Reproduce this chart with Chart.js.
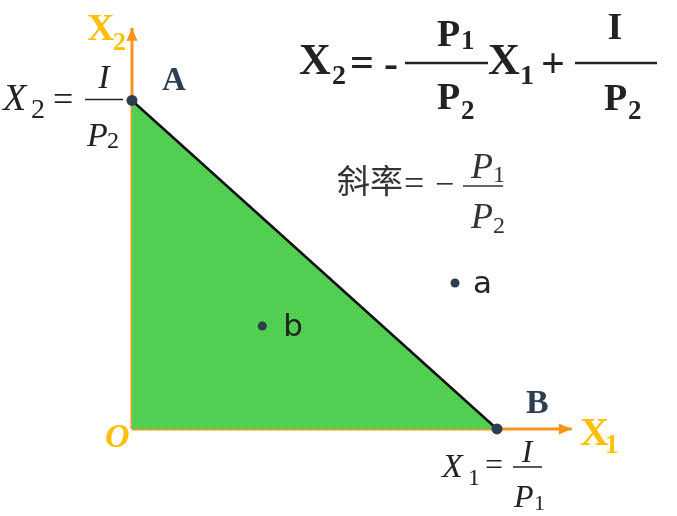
<!DOCTYPE html>
<html>
  <head>
    <meta charset="utf-8">
    <title>Budget line</title>
    <style>
      body { margin: 0; background: #fff; }
      #wrap { width: 677px; height: 516px; }
    </style>
  </head>
  <body>
    <div id="wrap"><canvas id="canvas"></canvas></div>
    <script src="https://cdn.jsdelivr.net/npm/chart.js@4"></script>
    <script>
      // intercepts of the budget line, in units of goods
      const interceptX1 = 10; // I/P1
      const interceptX2 = 9;  // I/P2
      const budgetLine = [{ x: 0, y: interceptX2 }, { x: interceptX1, y: 0 }];
      const axisX1 = [{ x: 0, y: 0 }, { x: 12.05, y: 0 }];
      const axisX2 = [{ x: 0, y: 0 }, { x: 0, y: 10.99 }];
      const bundleA = [{ x: 8.85, y: 4.0 }];
      const bundleB = [{ x: 3.57, y: 2.82 }];
      const xRange = [-3.616, 14.932];
      const yRange = [-2.384, 11.753];

      const orange = "#f7941d";
      const gold = "#ffc000";
      const slate = "#2c3e50";
      const ink = "#222";

      // dotted green fill like the slide
      const pc = document.createElement("canvas");
      pc.width = 4; pc.height = 4;
      const pctx = pc.getContext("2d");
      pctx.fillStyle = "#4ccd4c";
      pctx.fillRect(0, 0, 4, 4);
      pctx.fillStyle = "#78d878";
      pctx.fillRect(0, 0, 1, 1);
      pctx.fillRect(2, 2, 1, 1);
      const greenFill = pctx.createPattern(pc, "repeat");

      function put(ctx, text, x, y, font, color, align) {
        ctx.font = font;
        ctx.fillStyle = color;
        ctx.textAlign = align || "left";
        ctx.textBaseline = "alphabetic";
        ctx.fillText(text, x, y);
        return ctx.measureText(text).width;
      }
      function rule(ctx, x1, x2, y, w, color) {
        ctx.strokeStyle = color;
        ctx.lineWidth = w;
        ctx.beginPath();
        ctx.moveTo(x1, y);
        ctx.lineTo(x2, y);
        ctx.stroke();
      }
      function arrow(ctx, x, y, dir) {
        ctx.fillStyle = orange;
        ctx.beginPath();
        if (dir === "up") {
          ctx.moveTo(x, y);
          ctx.lineTo(x - 5.5, y + 13);
          ctx.lineTo(x + 5.5, y + 13);
        } else {
          ctx.moveTo(x, y);
          ctx.lineTo(x - 13, y - 5.5);
          ctx.lineTo(x - 13, y + 5.5);
        }
        ctx.closePath();
        ctx.fill();
      }

      const labels = {
        id: "labels",
        afterDatasetsDraw(chart) {
          const ctx = chart.ctx;
          const sx = chart.scales.x, sy = chart.scales.y;
          ctx.save();
          // arrowheads at axis ends
          arrow(ctx, sx.getPixelForValue(0), sy.getPixelForValue(axisX2[1].y), "up");
          arrow(ctx, sx.getPixelForValue(axisX1[1].x), sy.getPixelForValue(0), "right");
          ctx.restore();
        },
        afterDraw(chart) {
          const ctx = chart.ctx;
          const sx = chart.scales.x, sy = chart.scales.y;
          const ox = sx.getPixelForValue(0), oy = sy.getPixelForValue(0);
          const ay = sy.getPixelForValue(interceptX2);
          const bx = sx.getPixelForValue(interceptX1);
          ctx.save();
          const serif = "'Liberation Serif', 'Times New Roman', serif";

          // axis names
          put(ctx, "X", ox - 45, 40, "bold 38px " + serif, gold);
          put(ctx, "2", ox - 19, 50, "bold 26px " + serif, gold);
          put(ctx, "X", bx + 83, oy + 16, "bold 40px " + serif, gold);
          put(ctx, "1", bx + 108, oy + 24, "bold 27px " + serif, gold);
          put(ctx, "O", ox - 27, oy + 18, "italic bold 34px " + serif, gold);

          // corner points
          put(ctx, "A", ox + 30, ay - 10, "bold 33px " + serif, slate);
          put(ctx, "B", bx + 29, oy - 16, "bold 34px " + serif, slate);

          // bundles
          const sans = "'DejaVu Sans', 'Open Sans', sans-serif";
          put(ctx, "a", sx.getPixelForValue(bundleA[0].x) + 18, sy.getPixelForValue(bundleA[0].y) + 10, "31px " + sans, ink);
          put(ctx, "b", sx.getPixelForValue(bundleB[0].x) + 21, sy.getPixelForValue(bundleB[0].y) + 10, "31px " + sans, ink);

          // X2 = I/P2 at A
          put(ctx, "X", ox - 129, ay + 10, "italic 38px " + serif, ink);
          put(ctx, "2", ox - 101, ay + 18, "28px " + serif, ink);
          put(ctx, "=", ox - 79, ay + 11, "36px " + serif, ink);
          rule(ctx, ox - 47, ox - 9, ay - 1, 1.5, ink);
          put(ctx, "I", ox - 28, ay - 12, "italic 34px " + serif, ink, "center");
          put(ctx, "P", ox - 45, ay + 46, "italic 34px " + serif, ink);
          put(ctx, "2", ox - 25, ay + 48, "24px " + serif, ink);

          // X1 = I/P1 at B
          put(ctx, "X", bx - 55, oy + 48, "italic 34px " + serif, ink);
          put(ctx, "1", bx - 29, oy + 56, "24px " + serif, ink);
          put(ctx, "=", bx - 12, oy + 46, "32px " + serif, ink);
          rule(ctx, bx + 16, bx + 45, oy + 38, 1.5, ink);
          put(ctx, "I", bx + 30, oy + 33, "italic 32px " + serif, ink, "center");
          put(ctx, "P", bx + 17, oy + 78, "italic 32px " + serif, ink);
          put(ctx, "1", bx + 37, oy + 81, "22px " + serif, ink);

          // budget equation
          put(ctx, "X", 299, 74, "bold 44px " + serif, ink);
          put(ctx, "2", 332, 84, "bold 28px " + serif, ink);
          put(ctx, "=", 350, 76, "bold 42px " + serif, ink);
          put(ctx, "-", 384, 77, "bold 42px " + serif, ink);
          rule(ctx, 405, 488, 63, 2.5, ink);
          put(ctx, "P", 437, 46, "bold 38px " + serif, ink);
          put(ctx, "1", 461, 49, "bold 27px " + serif, ink);
          put(ctx, "P", 437, 109, "bold 38px " + serif, ink);
          put(ctx, "2", 461, 119, "bold 27px " + serif, ink);
          put(ctx, "X", 488, 74, "bold 44px " + serif, ink);
          put(ctx, "1", 520, 84, "bold 28px " + serif, ink);
          put(ctx, "+", 541, 77, "bold 42px " + serif, ink);
          rule(ctx, 575, 657, 63, 2.5, ink);
          put(ctx, "I", 615, 39, "bold 38px " + serif, ink, "center");
          put(ctx, "P", 604, 110, "bold 38px " + serif, ink);
          put(ctx, "2", 628, 119, "bold 27px " + serif, ink);

          // slope
          put(ctx, "斜率", 337, 193, "33px 'Noto Sans CJK SC', sans-serif", "#333");
          put(ctx, "=", 404, 195, "36px " + serif, "#333");
          put(ctx, "−", 435, 195, "34px " + serif, "#333");
          rule(ctx, 463, 503, 186, 1.5, "#333");
          put(ctx, "P", 471, 178, "italic 36px " + serif, "#333");
          put(ctx, "1", 493, 182, "24px " + serif, "#333");
          put(ctx, "P", 471, 228, "italic 36px " + serif, "#333");
          put(ctx, "2", 493, 233, "24px " + serif, "#333");
          ctx.restore();
        }
      };

      new Chart(document.getElementById("canvas").getContext("2d"), {
        type: "scatter",
        data: {
          datasets: [
            {
              label: "ends",
              data: budgetLine,
              pointRadius: 5.5,
              pointBackgroundColor: slate,
              pointBorderWidth: 0,
              showLine: false,
              order: 0
            },
            {
              label: "bundles",
              data: bundleA.concat(bundleB),
              pointRadius: 4.5,
              pointBackgroundColor: slate,
              pointBorderWidth: 0,
              showLine: false,
              order: 1
            },
            {
              label: "budget",
              data: budgetLine,
              showLine: true,
              borderColor: "#111",
              borderWidth: 2.5,
              backgroundColor: greenFill,
              fill: "origin",
              pointRadius: 0,
              order: 2
            },
            {
              label: "X1",
              data: axisX1,
              showLine: true,
              borderColor: orange,
              borderWidth: 3,
              pointRadius: 0,
              order: 3
            },
            {
              label: "X2",
              data: axisX2,
              showLine: true,
              borderColor: orange,
              borderWidth: 3,
              pointRadius: 0,
              order: 3
            }
          ]
        },
        options: {
          responsive: true,
          maintainAspectRatio: false,
          animation: false,
          layout: { padding: 0, autoPadding: false },
          plugins: {
            legend: { display: false },
            tooltip: { enabled: false }
          },
          scales: {
            x: { type: "linear", display: false, min: xRange[0], max: xRange[1] },
            y: { type: "linear", display: false, min: yRange[0], max: yRange[1] }
          }
        },
        plugins: [labels]
      });
    </script>
  </body>
</html>
